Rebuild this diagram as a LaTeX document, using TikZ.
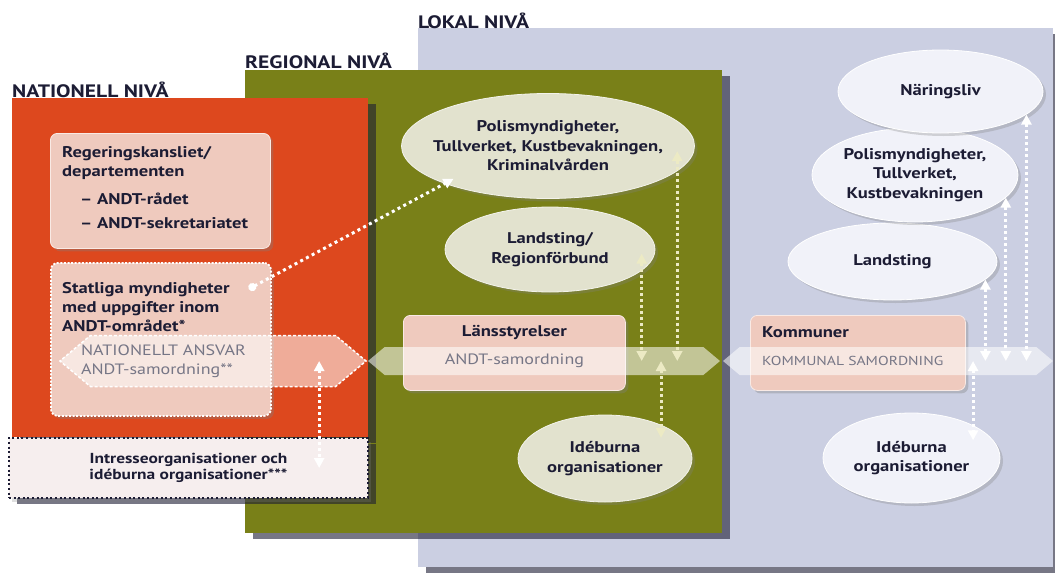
\documentclass[tikz,border=0pt]{standalone}
\usepackage{fontspec}
\setmainfont{PT Sans}[FakeStretch=1.2]
\usetikzlibrary{positioning,shapes.geometric,shapes.symbols,shadows,arrows.meta}

\definecolor{natred}{RGB}{221,72,30}
\definecolor{reggreen}{RGB}{121,128,24}
\definecolor{loklilac}{RGB}{203,207,226}
\definecolor{boxpink}{RGB}{239,202,190}
\definecolor{regoval}{RGB}{226,226,206}
\definecolor{lokoval}{RGB}{241,242,249}
\definecolor{intrpink}{RGB}{246,238,238}
\definecolor{navy}{RGB}{28,28,52}
\definecolor{bandgray}{RGB}{118,118,134}
\definecolor{regdot}{RGB}{236,234,196}

\tikzstyle{level}=[
        rectangle,
        inner sep = 0pt,
        anchor = north west,
        drop shadow = {shadow xshift=8pt, shadow yshift=-6pt, opacity=.6, fill=navy}
    ]
\tikzstyle{level label}=[
        inner sep = 0pt,
        anchor = base west,
        text = navy,
        font = \bfseries\fontsize{18}{20}\selectfont
    ]
\tikzstyle{pink box}=[
        rectangle,
        rounded corners = 7pt,
        inner sep = 0pt,
        anchor = north west,
        fill = boxpink,
        draw = white!60!boxpink,
        line width = .8pt,
        drop shadow = {shadow xshift=3pt, shadow yshift=-3pt, opacity=.35}
    ]
\tikzstyle{box text}=[
        inner sep = 0pt,
        align = left,
        text = navy,
        font = \bfseries\fontsize{15.5}{19}\selectfont
    ]
\tikzstyle{oval}=[
        ellipse,
        inner sep = 0pt,
        line width = .8pt,
        drop shadow = {shadow xshift=3pt, shadow yshift=-3pt, opacity=.3}
    ]
\tikzstyle{oval text}=[
        inner sep = 0pt,
        align = center,
        text = navy,
        font = \bfseries\fontsize{15.5}{19.5}\selectfont
    ]
\tikzstyle{band}=[
        signal,
        signal to = west and east,
        signal pointer angle = 80,
        inner sep = 0pt,
        fill = white,
        fill opacity = .55
    ]
\tikzstyle{band text}=[
        inner sep = 0pt,
        align = left,
        text = bandgray,
        font = \fontsize{15}{19}\selectfont
    ]
\tikzstyle{dots}=[
        white,
        line width = 3pt,
        dash pattern = on 3pt off 3pt,
        arrows = {Triangle[width=10pt,length=10pt]-Triangle[width=10pt,length=10pt]}
    ]

\begin{document}
\begin{tikzpicture}[x=1pt, y=-1pt]
        \useasboundingbox (0,0) rectangle (1055,573);

        % levels
        \node[level, fill=loklilac, minimum width=635pt, minimum height=539pt] (lok) at (418,28) {};
        \node[level, fill=reggreen, minimum width=477pt, minimum height=463pt] (reg) at (245,70) {};
        \node[level, fill=natred, minimum width=356pt, minimum height=339pt] (nat) at (12,98) {};
        \node[level, fill=intrpink, draw=navy, line width=2pt, dash pattern=on 2pt off 2.6pt,
              drop shadow={shadow xshift=3pt, shadow yshift=-4pt, opacity=.25},
              minimum width=359pt, minimum height=60pt, align=center, text=navy,
              font=\bfseries\fontsize{14.5}{15.5}\selectfont] (intr) at (8,437)
              {Intresseorganisationer och\\idéburna organisationer***};

        \node[level label] (natlbl) at ([yshift=1pt]nat.north west) {NATIONELL NIVÅ};
        \node[level label] (reglbl) at ([yshift=2pt]reg.north west) {REGIONAL NIVÅ};
        \node[level label] (loklbl) at (lok.north west) {LOKAL NIVÅ};

        % nationell
        \node[pink box, minimum width=220pt, minimum height=115pt] (rk) at (50,133) {};
        \node[box text, below right=13pt and 12pt of rk.north west] (rktxt)
              {Regeringskansliet/\\departementen\\[9pt]\hspace*{18pt}– ANDT-rådet\\[5pt]\hspace*{18pt}– ANDT-sekretariatet};
        \node[pink box, draw=white, line width=1.8pt, dash pattern=on 2pt off 1.6pt,
              minimum width=220pt, minimum height=153pt] (stat) at (50,262) {};
        \node[box text, below right=20pt and 12pt of stat.north west] (stattxt)
              {Statliga myndigheter\\med uppgifter inom\\ANDT-området*};
        \node[band, draw=white, line width=1.5pt, dash pattern=on 3pt off 2pt,
              minimum width=306pt, minimum height=51pt] (nband) at (213,361) {};
        \node[band text, right=22pt of nband.west] (nbandtxt) {NATIONELLT ANSVAR\\ANDT-samordning**};

        % regional
        \node[oval, fill=regoval, draw=white!60!regoval, minimum width=293pt, minimum height=105pt,
              label={[oval text]center:{Polismyndigheter,\\Tullverket, Kustbevakningen,\\Kriminalvården}}] (rpolis) at (548,146) {};
        \node[oval, fill=regoval, draw=white!60!regoval, minimum width=210pt, minimum height=85pt,
              label={[oval text]center:{Landsting/\\Regionförbund}}] (rland) at (550,249.5) {};
        \node[pink box, minimum width=222pt, minimum height=75pt] (lans) at (403,315) {};
        \node[box text, below=10pt of lans.north] (lanstxt) {Länsstyrelser};
        \node[band, minimum width=352pt, minimum height=28pt] (rband) at (544,361) {};
        \node[band text] (rbandtxt) at (lans |- rband) {ANDT-samordning};
        \node[oval, fill=regoval, draw=white!60!regoval, minimum width=174pt, minimum height=87pt,
              label={[oval text]center:{Idéburna\\organisationer}}] (ridee) at (605,458.5) {};

        % lokal
        \node[oval, fill=lokoval, draw=white, minimum width=209pt, minimum height=77pt,
              label={[oval text]center:{Landsting}}] (lland) at (892.5,261.5) {};
        \node[oval, fill=lokoval, draw=white, minimum width=206pt, minimum height=94pt,
              label={[oval text]center:{Polismyndigheter,\\Tullverket,\\Kustbevakningen}}] (lpolis) at (915,175) {};
        \node[oval, fill=lokoval, draw=white, minimum width=205pt, minimum height=83pt,
              label={[oval text]center:{Näringsliv}}] (lnar) at (940.5,91.5) {};
        \node[pink box, minimum width=215pt, minimum height=75pt] (komm) at (750,315) {};
        \node[box text, below right=11pt and 12pt of komm.north west] (kommtxt) {Kommuner};
        \node[band, minimum width=330pt, minimum height=28pt] (lband) at (888,361) {};
        \node[band text, anchor=west, font=\fontsize{13}{15}\selectfont] (lbandtxt)
              at (kommtxt.west |- lband) {KOMMUNAL SAMORDNING};
        \node[oval, fill=lokoval, draw=white, minimum width=177pt, minimum height=90pt,
              label={[oval text]center:{Idéburna\\organisationer}}] (lidee) at (911.5,458) {};

        % connectors
        \draw[white, line width=3pt, dash pattern=on 3pt off 3.5pt, shorten >=-10pt,
              arrows={Circle[length=8pt]-Triangle[width=10pt,length=10pt]}]
              ([xshift=-23pt,yshift=-27pt]stat.north east) -- (rpolis.200);
        \draw[dots] ([xshift=-48pt]nband.east) -- ([xshift=-48pt]nband.east |- intr.center);

        \draw[dots, regdot, shorten <=-20pt] (rpolis.-11) -- (rpolis.-11 |- rband.center);
        \draw[dots, regdot, shorten <=-17pt] (rland.-13) -- (rland.-13 |- rband.center);
        \draw[dots, regdot, shorten >=-13pt] (ridee.31 |- rband.center) -- (ridee.31);

        \draw[dots] (lnar.-15) -- (lnar.-15 |- lband.center);
        \draw[dots] (lpolis.-14) -- (lpolis.-14 |- lband.center);
        \draw[dots] (lland.-11) -- (lland.-11 |- lband.center);
        \draw[dots, shorten >=-15pt] (lidee.28 |- lband.center) -- (lidee.28);
    \end{tikzpicture}
\end{document}
